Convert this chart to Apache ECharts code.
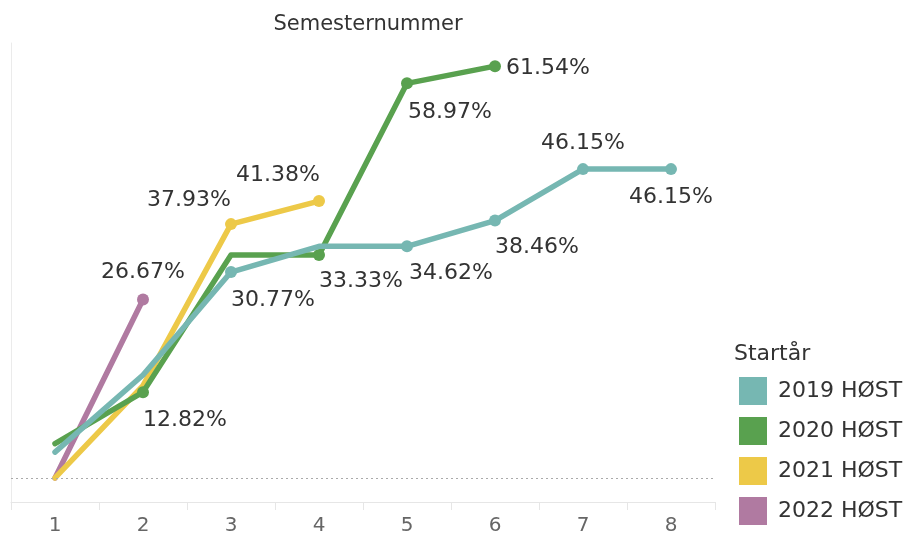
<!DOCTYPE html>
<html>
<head>
<meta charset="utf-8">
<script src="https://cdn.jsdelivr.net/npm/echarts@6/dist/echarts.min.js"></script>
<style>html,body{margin:0;padding:0;background:#fff;}#c{width:905px;height:538px;}</style>
</head>
<body>
<div id="c"></div>
<script>
var categories = ['1','2','3','4','5','6','7','8'];
var seriesNames = ['2019 HØST','2020 HØST','2021 HØST','2022 HØST'];
var s2019 = [3.85, 15.38, 30.77, 34.62, 34.62, 38.46, 46.15, 46.15];
var s2020 = [5.13, 12.82, 33.33, 33.33, 58.97, 61.54, null, null];
var s2021 = [0, 13.79, 37.93, 41.38, null, null, null, null];
var s2022 = [0, 26.67, null, null, null, null, null, null];
var labeled2019 = [2, 4, 5, 6, 7];
var labeled2020 = [1, 3, 4, 5];
var labeled2021 = [2, 3];
var labeled2022 = [1];

var colors = ['#76b7b2', '#59a14f', '#edc948', '#b07aa1'];
var FONT = 'DejaVu Sans';

// label placement (align, offset) per series/index
var place = {
  0: {2:['left',[0,28]], 4:['left',[2,27]], 5:['left',[0,27]], 6:['center',[0,-26]], 7:['center',[0,28]]},
  1: {1:['left',[0,28]], 3:['left',[0,26]], 4:['left',[1,29]], 5:['left',[11,2]]},
  2: {2:['right',[0,-24]], 3:['right',[1,-26]]},
  3: {1:['center',[0,-27]]}
};

function build(vals, labeled, si) {
  return vals.map(function (v, i) {
    if (v === null) return null;
    var isL = labeled.indexOf(i) >= 0;
    var item = { value: v };
    if (isL) {
      var p = place[si][i];
      item.symbol = 'circle';
      item.symbolSize = 12;
      item.label = {
        show: true, position: 'inside', align: p[0], verticalAlign: 'middle',
        offset: p[1], color: '#333', fontSize: 22, fontFamily: FONT,
        formatter: function (d) { return d.value.toFixed(2) + '%'; }
      };
    } else {
      item.symbol = 'none';
    }
    return item;
  });
}

var allVals = [s2019, s2020, s2021, s2022];
var allLab = [labeled2019, labeled2020, labeled2021, labeled2022];
var order = [3, 2, 1, 0];
var series = order.map(function (si, k) {
  var s = {
    name: seriesNames[si], type: 'line', z: 2 + k,
    data: build(allVals[si], allLab[si], si),
    symbol: 'circle', symbolSize: 12, showAllSymbol: true,
    lineStyle: { width: 5.5, color: colors[si], cap: 'round', join: 'round' },
    itemStyle: { color: colors[si] },
    emphasis: { disabled: true },
    animation: false
  };
  if (si === 3) {
    s.markLine = {
      silent: true, symbol: 'none', label: { show: false },
      lineStyle: { color: '#aaa', type: [2, 3], width: 1 },
      data: [{ yAxis: 0 }], animation: false
    };
  }
  return s;
});

var chart = echarts.init(document.getElementById('c'), null, { renderer: 'canvas' });
chart.setOption({
  backgroundColor: '#fff',
  animation: false,
  title: [
    { text: 'Semesternummer', left: 363, top: 9, textAlign: 'center',
      textStyle: { fontFamily: FONT, fontSize: 21, fontWeight: 'normal', color: '#333' } },
    { text: 'Startår', left: 729, top: 338,
      textStyle: { fontFamily: FONT, fontSize: 22, fontWeight: 'normal', color: '#333' } }
  ],
  legend: {
    orient: 'vertical', left: 734, top: 372,
    data: seriesNames, icon: 'rect', itemWidth: 28, itemHeight: 28, itemGap: 12,
    textStyle: { fontFamily: FONT, fontSize: 22, color: '#333', padding: [0, 0, 0, 6] },
    selectedMode: false
  },
  grid: { left: 11, right: 190, top: 43, bottom: 36 },
  xAxis: {
    type: 'category', data: categories, boundaryGap: true,
    axisLine: { show: true, onZero: false, lineStyle: { color: '#e6e6e6', width: 1 } },
    axisTick: { show: true, length: 8, lineStyle: { color: '#e6e6e6' } },
    axisLabel: { color: '#666', fontSize: 20, fontFamily: FONT, margin: 14 },
    splitLine: { show: false }
  },
  yAxis: {
    type: 'value', min: -3.6, max: 65,
    axisLine: { show: true, lineStyle: { color: '#ebebeb' } },
    axisTick: { show: false }, axisLabel: { show: false }, splitLine: { show: false }
  },
  series: series
});
</script>
</body>
</html>
